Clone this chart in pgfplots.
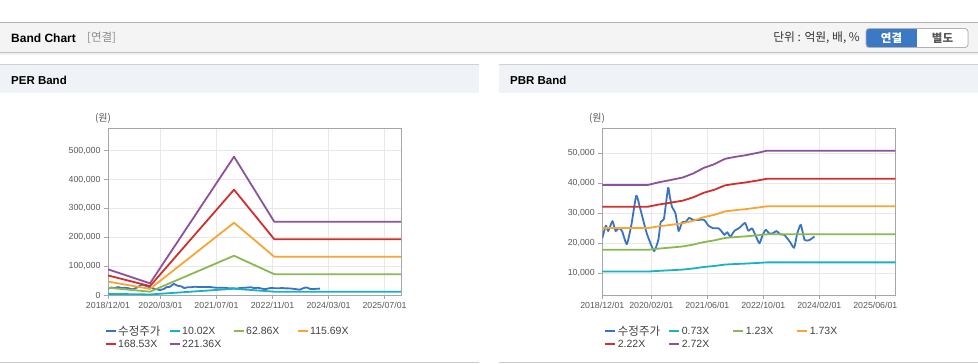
\documentclass[border=0pt]{standalone}
\usepackage{fontspec}
\setmainfont{Liberation Sans}
\newfontfamily\kr{Noto Sans CJK KR}
\usepackage{pgfplots}
\usepackage{pgfplotstable}
\pgfplotsset{compat=1.18}

\definecolor{cPrice}{HTML}{3A73C2}
\definecolor{cCyan}{HTML}{1AB0C6}
\definecolor{cGreen}{HTML}{8BB852}
\definecolor{cOrange}{HTML}{F6A633}
\definecolor{cRed}{HTML}{D0302D}
\definecolor{cPurple}{HTML}{8E519B}
\definecolor{hdrbg}{HTML}{F4F4F4}
\definecolor{panelbg}{HTML}{EFF2F7}
\definecolor{btnblue}{HTML}{3B79C4}

% month index from 2018/12/01
\pgfplotstableread{
m a b c d e
0 4028 25270 46507 67749 88987
12 1834 11503 21171 30841 40509
36 21693 136092 250469 364867 479244
47.5 11493 72100 132696 193304 253900
84 11493 72100 132696 193304 253900
}\pertab

\pgfplotstableread{
m a b c d e
0 10585 17835 25085 32190 39440
13 10585 17835 25085 32190 39440
16 10819 18229 25639 32900 40310
19.5 11030 18585 26140 33544 41099
23 11257 18967 26677 34232 41942
26 11622 19582 27542 35342 43302
29 12118 20418 28718 36852 45152
32 12447 20972 29497 37851 46376
35 12921 21771 30621 39294 48144
38 13104 22079 31054 39849 48824
41 13250 22325 31400 40293 49368
44.5 13469 22694 31919 40959 50184
47 13651 23001 32351 41514 50864
84 13651 23001 32351 41514 50864
}\pbrtab

\pgfplotstableread{
m v
0 21700
1.0 25900
1.7 24100
2.9 27400
3.8 24100
4.8 25200
5.7 23900
7.0 19700
8.3 26100
9.7 35900
10.8 31700
12.5 24100
13.4 21100
14.8 17400
16 21100
16.7 27200
17.6 28100
18.8 38500
19.3 35500
19.9 32200
20.9 30000
21.8 24100
22.8 27000
23.9 27200
24.8 28500
26 27800
27.4 27800
29.1 27800
30.3 25900
31.7 25000
33.2 25000
34 24100
34.9 22800
35.7 23700
36.6 22200
37.7 24100
39.2 25200
40.8 26800
41.7 24200
42.8 25000
43.7 22800
44.9 20000
45.8 22800
46.7 24500
47.7 23300
48.6 23300
49.8 24100
50.8 23000
52 22800
53.6 20500
54.8 18500
55.7 23300
56.7 26200
57.8 21100
59.2 21100
60.6 22300
}\pricetab

\pgfplotsset{
  bandstyle/.style={
    anchor=south west, scale only axis, width=293pt, height=167pt,
    xmin=0, xmax=83.7,
    scaled y ticks=false, scaled x ticks=false,
    xtick pos=bottom, ytick pos=left,
    grid=major, major grid style={draw=black!9, line width=0.8pt},
    axis line style={draw=black!35, line width=0.9pt},
    tick align=outside, major tick length=4pt,
    tick style={draw=black!35, line width=0.8pt},
    ticklabel style={font=\fontsize{8.8}{10}\selectfont, text=black!65},
    every axis plot/.append style={line width=1.8pt, line join=round, no marks},
    legend columns=4,
    legend image code/.code={\draw[#1, line width=2pt] (0pt,0pt) -- (10pt,0pt);},
    legend style={draw=none, fill=none, inner sep=0pt, at={(0,0)}, anchor=north west,
      font=\fontsize{10.5}{12}\selectfont, text=black!75,
      nodes={inner sep=1.5pt}},
  }
}

\begin{document}
\begin{tikzpicture}
\path[use as bounding box, fill=white] (0,0) rectangle (978pt,-364pt);
% header
\fill[hdrbg] (0,-22pt) rectangle (978pt,-52.5pt);
\fill[black!5] (0,-52.5pt) rectangle (978pt,-55pt);
\draw[black!30, line width=1pt] (0,-22pt) -- (978pt,-22pt);
\draw[black!25, line width=1pt] (0,-52.5pt) -- (978pt,-52.5pt);
\node[anchor=west, inner sep=0pt, font=\bfseries\fontsize{12}{14}\selectfont] at (11pt,-38pt) {Band Chart};
\node[anchor=west, inner sep=0pt, text=black!45, font=\kr\fontsize{11.5}{13}\selectfont] at (87pt,-38pt) {[연결]};
\node[anchor=east, inner sep=0pt, text=black!80, font=\kr\fontsize{11.8}{13}\selectfont] at (860pt,-38pt) {단위 : 억원, 배, \%};
% button
\fill[btnblue, rounded corners=3pt] (866pt,-28.5pt) rectangle (968pt,-47.5pt);
\fill[white, rounded corners=3pt] (917pt,-28.5pt) rectangle (968pt,-47.5pt);
\fill[white] (917pt,-28.5pt) rectangle (923pt,-47.5pt);
\draw[black!30, rounded corners=3pt, line width=0.8pt] (866pt,-28.5pt) rectangle (968pt,-47.5pt);
\node[text=white, font=\kr\bfseries\fontsize{11.5}{13}\selectfont] at (891.5pt,-38pt) {연결};
\node[text=black!65, font=\kr\bfseries\fontsize{11.5}{13}\selectfont] at (942.5pt,-38pt) {별도};
% panels
\fill[panelbg] (0,-64pt) rectangle (479pt,-93pt);
\fill[panelbg] (499pt,-64pt) rectangle (978pt,-93pt);
\draw[black!18, line width=1pt] (0,-64pt) -- (479pt,-64pt);
\draw[black!18, line width=1pt] (499pt,-64pt) -- (978pt,-64pt);
\draw[black!20, line width=1pt] (0,-362.5pt) -- (479pt,-362.5pt);
\draw[black!20, line width=1pt] (499pt,-362.5pt) -- (978pt,-362.5pt);
\node[anchor=west, inner sep=0pt, font=\bfseries\fontsize{11.5}{13}\selectfont] at (11pt,-80pt) {PER Band};
\node[anchor=west, inner sep=0pt, font=\bfseries\fontsize{11.5}{13}\selectfont] at (510pt,-80pt) {PBR Band};
\node[text=black!65, font=\kr\fontsize{10}{11}\selectfont] at (103pt,-118pt) {(원)};
\node[text=black!65, font=\kr\fontsize{10}{11}\selectfont] at (597pt,-118pt) {(원)};

% PER
\begin{axis}[bandstyle, at={(108pt,-295pt)},
  ymin=0, ymax=578700,
  xtick={0,15,31,47,63,79},
  xticklabels={2018/12/01,2020/03/01,2021/07/01,2022/11/01,2024/03/01,2025/07/01},
  ytick={0,100000,200000,300000,400000,500000},
  yticklabels={0,{100,000},{200,000},{300,000},{400,000},{500,000}},
  legend style={xshift=-3.5pt, yshift=-29pt}]
\addplot[cPrice, smooth, tension=0.3] table[x=m,y=v] {\pricetab};
\addlegendentry{\makebox[49pt][l]{\kr\fontsize{11.5}{12}\selectfont 수정주가}}
\addplot[cCyan] table[x=m,y=a] {\pertab};
\addlegendentry{\makebox[49pt][l]{10.02X}}
\addplot[cGreen] table[x=m,y=b] {\pertab};
\addlegendentry{\makebox[49pt][l]{62.86X}}
\addplot[cOrange] table[x=m,y=c] {\pertab};
\addlegendentry{\makebox[49pt][l]{115.69X}}
\addplot[cRed] table[x=m,y=d] {\pertab};
\addlegendentry{\makebox[49pt][l]{168.53X}}
\addplot[cPurple] table[x=m,y=e] {\pertab};
\addlegendentry{\makebox[49pt][l]{221.36X}}
\end{axis}

% PBR
\begin{axis}[bandstyle, at={(602.3pt,-295pt)},
  ymin=2780, ymax=58430,
  xtick={0,14,30,46,62,78},
  xticklabels={2018/12/01,2020/02/01,2021/06/01,2022/10/01,2024/02/01,2025/06/01},
  ytick={10000,20000,30000,40000,50000},
  yticklabels={{10,000},{20,000},{30,000},{40,000},{50,000}},
  legend style={xshift=1.9pt, yshift=-29pt}]
\addplot[cPrice, smooth, tension=0.3] table[x=m,y=v] {\pricetab};
\addlegendentry{\makebox[49pt][l]{\kr\fontsize{11.5}{12}\selectfont 수정주가}}
\addplot[cCyan] table[x=m,y=a] {\pbrtab};
\addlegendentry{\makebox[49pt][l]{0.73X}}
\addplot[cGreen] table[x=m,y=b] {\pbrtab};
\addlegendentry{\makebox[49pt][l]{1.23X}}
\addplot[cOrange] table[x=m,y=c] {\pbrtab};
\addlegendentry{\makebox[49pt][l]{1.73X}}
\addplot[cRed] table[x=m,y=d] {\pbrtab};
\addlegendentry{\makebox[49pt][l]{2.22X}}
\addplot[cPurple] table[x=m,y=e] {\pbrtab};
\addlegendentry{\makebox[49pt][l]{2.72X}}
\end{axis}
\end{tikzpicture}
\end{document}
